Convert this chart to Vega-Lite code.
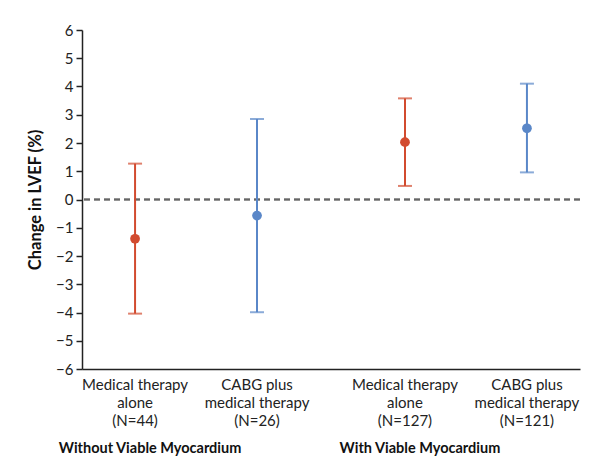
{
  "$schema": "https://vega.github.io/schema/vega-lite/v6.json",
  "width": 498,
  "height": 339,
  "autosize": {"type": "none"},
  "padding": {"left": 82, "top": 30, "right": 20, "bottom": 105},
  "background": "white",
  "config": {
    "view": {"stroke": null},
    "font": "Lato",
    "axis": {"grid": false, "domainColor": "#222", "domainWidth": 1.5, "tickColor": "#222", "labelColor": "#222", "titleColor": "#111"},
    "axisY": {"values": [-6,-5,-4,-3,-2,-1,0,1,2,3,4,5,6], "labelOverlap": false, "labelFontSize": 15, "tickSize": 6, "tickWidth": 1.5, "labelPadding": 3, "titleFontSize": 16.5, "titleFontWeight": "bold", "titlePadding": 12}
  },
  "data": {"values": [
    {"group": "Without Viable Myocardium", "treatment": "Medical therapy alone", "label": "Medical therapy|alone|(N=44)", "mean": -1.39, "lower": -4.04, "upper": 1.27},
    {"group": "Without Viable Myocardium", "treatment": "CABG plus medical therapy", "label": "CABG plus|medical therapy|(N=26)", "mean": -0.57, "lower": -3.99, "upper": 2.85},
    {"group": "With Viable Myocardium", "treatment": "Medical therapy alone", "label": "Medical therapy|alone|(N=127)", "mean": 2.03, "lower": 0.48, "upper": 3.58},
    {"group": "With Viable Myocardium", "treatment": "CABG plus medical therapy", "label": "CABG plus|medical therapy|(N=121)", "mean": 2.52, "lower": 0.96, "upper": 4.1}
  ]},
  "encoding": {
    "x": {
      "field": "group", "type": "nominal", "sort": null,
      "scale": {"paddingInner": 0.155, "paddingOuter": 0},
      "axis": {"title": null, "ticks": false, "labelAngle": 0, "labelFontSize": 14.5, "labelFontWeight": "bold", "labelColor": "#111", "labelPadding": 72, "labelBaseline": "top", "labelLimit": 400, "labelOffset": -46}
    },
    "xOffset": {
      "field": "treatment", "type": "nominal", "sort": ["Medical therapy alone", "CABG plus medical therapy"],
      "scale": {"paddingInner": 0.13, "paddingOuter": 0}
    }
  },
  "layer": [
    {
      "mark": {"type": "rule", "strokeDash": [6, 4], "color": "#666", "strokeWidth": 1.5},
      "encoding": {"y": {"datum": 0, "type": "quantitative", "scale": {"domain": [-6, 6], "nice": false}, "axis": {"title": "Change in LVEF (%)"}}, "x": null, "xOffset": null}
    },
    {
      "mark": {"type": "rule", "strokeWidth": 2},
      "encoding": {
        "y": {"field": "lower", "type": "quantitative", "axis": {"title": "Change in LVEF (%)"}},
        "y2": {"field": "upper"},
        "color": {"field": "treatment", "type": "nominal", "scale": {"domain": ["Medical therapy alone", "CABG plus medical therapy"], "range": ["#d24b2f", "#5a87c8"]}, "legend": null}
      }
    },
    {
      "mark": {"type": "tick", "orient": "horizontal", "size": 14, "thickness": 2},
      "encoding": {
        "y": {"field": "lower", "type": "quantitative", "axis": {"title": "Change in LVEF (%)"}},
        "color": {"field": "treatment", "type": "nominal", "legend": null}
      }
    },
    {
      "mark": {"type": "tick", "orient": "horizontal", "size": 14, "thickness": 2},
      "encoding": {
        "y": {"field": "upper", "type": "quantitative", "axis": {"title": "Change in LVEF (%)"}},
        "color": {"field": "treatment", "type": "nominal", "legend": null}
      }
    },
    {
      "mark": {"type": "point", "filled": true, "opacity": 1, "size": 95},
      "encoding": {
        "y": {"field": "mean", "type": "quantitative", "axis": {"title": "Change in LVEF (%)"}},
        "color": {"field": "treatment", "type": "nominal", "legend": null}
      }
    },
    {
      "mark": {"type": "text", "lineBreak": "|", "baseline": "top", "dy": 9, "fontSize": 15, "lineHeight": 18, "color": "#222"},
      "encoding": {
        "y": {"datum": -6, "type": "quantitative", "axis": {"title": "Change in LVEF (%)"}},
        "text": {"field": "label"}
      }
    }
  ]
}
